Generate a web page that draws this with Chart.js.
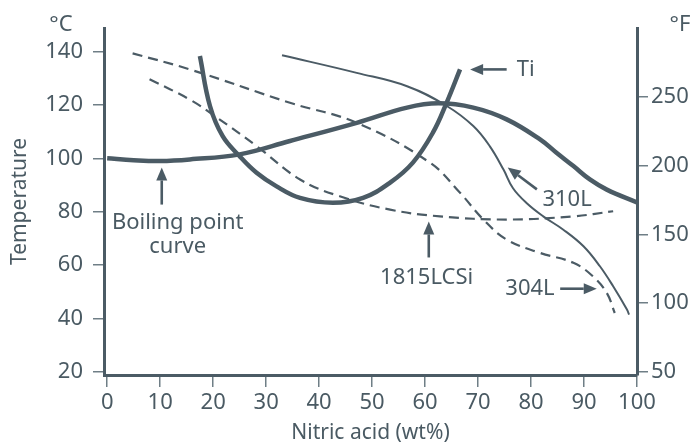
<!DOCTYPE html>
<html>
<head>
<meta charset="utf-8">
<script src="https://cdn.jsdelivr.net/npm/chart.js@4.4.1/dist/chart.umd.min.js"></script>
<style>
  html, body { margin: 0; padding: 0; background: #ffffff; }
  #wrap { width: 695px; height: 447px; position: relative; }
</style>
</head>
<body>
<div id="wrap"><canvas id="c" width="695" height="447"></canvas></div>
<script>
// Nitric acid concentration (wt%) and temperature (°C) along each curve
const boilingAcid = [0, 5, 10, 15.6, 25, 34.5, 47.1, 56.6, 62.5, 69.1, 75.4, 81.7, 84.8, 88, 91.1, 94.3, 100];
const boilingTemp = [100, 99.3, 99, 99.6, 101.5, 106.5, 113.3, 119, 120.6, 119, 114.6, 107.1, 102.1, 97.1, 92.1, 88.3, 83.5];

const tiAcid = [17.5, 19.4, 21.8, 25, 28.2, 31.9, 36.4, 42.6, 48.3, 53.4, 57.7, 61.5, 64.1, 66.6];
const tiTemp = [138.3, 119.6, 108.3, 100.8, 94.6, 89.6, 85.2, 83.4, 85.2, 90.9, 98.4, 109.7, 121, 133.3];

const l304Acid = [4.8, 15.6, 34.5, 47.1, 60.9, 66.6, 71, 75.4, 81.7, 88, 91.7, 94.3, 95.8];
const l304Temp = [139.3, 133.3, 120.8, 113.3, 98.4, 87.1, 77.1, 69.6, 64.6, 60.9, 55.8, 49.6, 42.1];

const l310Acid = [33, 47.1, 56.6, 64.1, 69.1, 72.2, 74.8, 76.6, 79.2, 82.3, 86.1, 89.9, 93, 95.5, 98.1, 98.5];
const l310Temp = [138.6, 132, 127, 119.6, 112.1, 104.6, 95.8, 88.8, 83.2, 78.3, 73.3, 67.1, 59.6, 52.1, 43.4, 41.5];

const lcsiAcid = [8, 15.6, 20.7, 28.2, 36.4, 43.9, 53.4, 62.8, 75.4, 88, 95.5];
const lcsiTemp = [129.6, 122, 115.3, 104.6, 92.1, 85.8, 80.8, 78.3, 77.1, 78.3, 80.2];

// Axis tick labels
const acidTicks = [0, 10, 20, 30, 40, 50, 60, 70, 80, 90, 100];
const celsiusTicks = [20, 40, 60, 80, 100, 120, 140];
const fahrenheitTicks = [50, 100, 150, 200, 250];

const INK = '#4b5b65';
const TEXT = '#4a5a63';
const TICK = '#6f7e86';
const FONT = '"Noto Sans", "Open Sans", sans-serif';

function pts(xs, ys) { return xs.map((x, i) => ({ x: x, y: ys[i] })); }

function curve(label, xs, ys, width, dash) {
  return {
    label: label,
    data: pts(xs, ys),
    borderColor: INK,
    borderWidth: width,
    borderDash: dash || [],
    borderCapStyle: 'butt',
    pointRadius: 0,
    fill: false,
    tension: 0.4,
    xAxisID: 'x',
    yAxisID: 'y'
  };
}

// Arrow and label callouts, positioned in data units
const callouts = [
  { text: ['Ti'], tip: [68.5, 133.3], tail: [75.4, 133.3], at: [77.3, 133.3], align: 'left' },
  { text: ['Boiling point', 'curve'], tip: [10.3, 96.6], tail: [10.3, 82.7], at: [13.3, 76], align: 'center' },
  { text: ['310L'], tip: [75.6, 96.6], tail: [81.1, 88.4], at: [86.8, 84.6], align: 'center' },
  { text: ['1815LCSi'], tip: [60.7, 76.4], tail: [60.7, 62.9], at: [60.3, 55.4], align: 'center' },
  { text: ['304L'], tip: [92.4, 51.2], tail: [85.5, 51.2], at: [79.8, 51.2], align: 'center' }
];

const calloutPlugin = {
  id: 'callouts',
  afterDatasetsDraw(chart) {
    const ctx = chart.ctx;
    const xs = chart.scales.x, ys = chart.scales.y;
    ctx.save();
    ctx.fillStyle = INK;
    ctx.strokeStyle = INK;
    callouts.forEach(c => {
      const tx = xs.getPixelForValue(c.tip[0]), ty = ys.getPixelForValue(c.tip[1]);
      const sx = xs.getPixelForValue(c.tail[0]), sy = ys.getPixelForValue(c.tail[1]);
      const ang = Math.atan2(ty - sy, tx - sx);
      const headLen = 13, headHalf = 5.5;
      const bx = tx - headLen * Math.cos(ang), by = ty - headLen * Math.sin(ang);
      ctx.lineWidth = 2.6;
      ctx.beginPath();
      ctx.moveTo(sx, sy);
      ctx.lineTo(bx, by);
      ctx.stroke();
      ctx.beginPath();
      ctx.moveTo(tx, ty);
      ctx.lineTo(bx + headHalf * Math.sin(ang), by - headHalf * Math.cos(ang));
      ctx.lineTo(bx - headHalf * Math.sin(ang), by + headHalf * Math.cos(ang));
      ctx.closePath();
      ctx.fill();

      ctx.fillStyle = TEXT;
      ctx.font = '22px ' + FONT;
      ctx.textAlign = c.align;
      ctx.textBaseline = 'middle';
      const lx = xs.getPixelForValue(c.at[0]), ly = ys.getPixelForValue(c.at[1]);
      c.text.forEach((t, i) => ctx.fillText(t, lx, ly + i * 24));
      ctx.fillStyle = INK;
    });
    // Unit labels above both vertical axes
    ctx.fillStyle = TEXT;
    ctx.font = '22px ' + FONT;
    ctx.textBaseline = 'middle';
    ctx.textAlign = 'center';
    ctx.fillText('°C', 61, 25);
    ctx.fillText('°F', 680, 25);
    ctx.restore();
  }
};

const tickFont = { family: FONT, size: 22 };

new Chart(document.getElementById('c'), {
  type: 'line',
  data: {
    datasets: [
      curve('Boiling point curve', boilingAcid, boilingTemp, 4.5),
      curve('Ti', tiAcid, tiTemp, 4.5),
      curve('310L', l310Acid, l310Temp, 2),
      curve('304L', l304Acid, l304Temp, 2.2, [10, 6]),
      curve('1815LCSi', lcsiAcid, lcsiTemp, 2.2, [10, 6])
    ]
  },
  options: {
    responsive: false,
    animation: false,
    devicePixelRatio: 1,
    layout: { padding: { top: 28, left: 0, right: 0, bottom: 0 } },
    plugins: { legend: { display: false }, tooltip: { enabled: false }, title: { display: false } },
    scales: {
      x: {
        type: 'linear',
        min: -0.6,
        max: 100,
        afterBuildTicks: s => { s.ticks = acidTicks.map(v => ({ value: v })); },
        afterFit: s => { s.height = 72; },
        ticks: { color: TEXT, font: tickFont, padding: 3, maxRotation: 0, autoSkip: false },
        grid: { drawOnChartArea: false, drawTicks: true, tickLength: 12, color: TICK, lineWidth: 1.5 },
        border: { display: true, color: INK, width: 3 },
        title: { display: true, text: 'Nitric acid (wt%)', color: TEXT, font: { family: FONT, size: 21 }, padding: { top: 0, bottom: 1 } }
      },
      y: {
        type: 'linear',
        position: 'left',
        min: 18.9,
        max: 148.8,
        afterBuildTicks: s => { s.ticks = celsiusTicks.map(v => ({ value: v })); },
        afterFit: s => { s.width = 104; },
        ticks: { color: TEXT, font: tickFont, padding: 10, autoSkip: false },
        grid: { drawOnChartArea: false, drawTicks: true, tickLength: 11, color: TICK, lineWidth: 1.5 },
        border: { display: true, color: INK, width: 3 },
        title: { display: true, text: 'Temperature', color: TEXT, font: { family: FONT, size: 21 }, padding: { top: 7, bottom: 0 } }
      },
      y2: {
        type: 'linear',
        position: 'right',
        min: 47.8,
        max: 300,
        afterBuildTicks: s => { s.ticks = fahrenheitTicks.map(v => ({ value: v })); },
        afterFit: s => { s.width = 58; },
        ticks: { color: TEXT, font: tickFont, padding: 3, autoSkip: false },
        grid: { drawOnChartArea: false, drawTicks: true, tickLength: 11, color: TICK, lineWidth: 1.5 },
        border: { display: true, color: INK, width: 3 }
      }
    }
  },
  plugins: [calloutPlugin]
});
</script>
</body>
</html>
